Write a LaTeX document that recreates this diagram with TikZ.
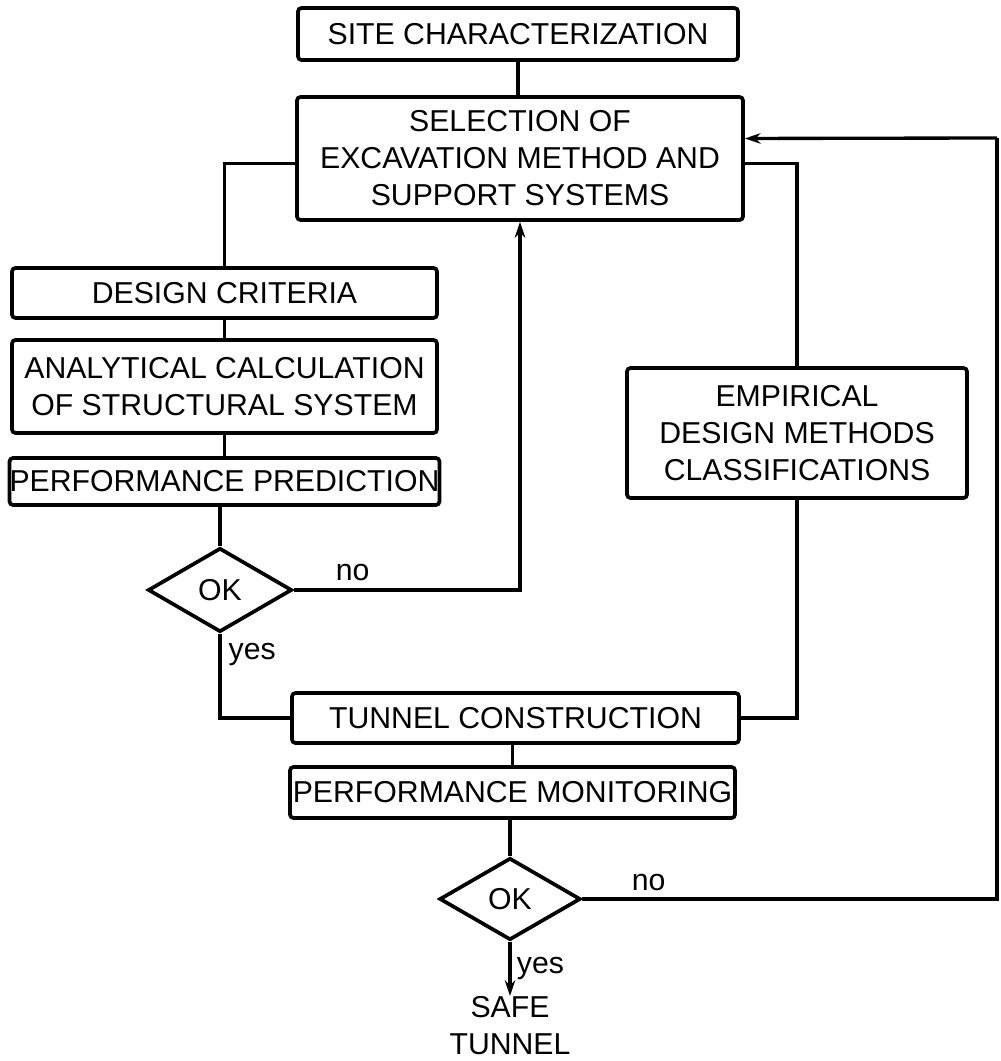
\documentclass[tikz,border=0pt]{standalone}
\usepackage{fontspec}
\setmainfont{Liberation Sans}
\usetikzlibrary{shapes.geometric,arrows.meta}
\tikzset{
    box/.style={draw, line width=2.1pt, rounded corners=2pt, align=center, inner sep=0pt},
    decision/.style={draw, diamond, line width=2.1pt, inner sep=0pt, aspect=1.7},
    lbl/.style={inner sep=0pt},
    link/.style={line width=1.9pt},
    tip/.style={link, -{Stealth[length=9pt,width=6pt]}}
}
\begin{document}
\begin{tikzpicture}[font=\fontsize{17.2}{21}\selectfont]
    \useasboundingbox (0,0) rectangle (20,21.22);
    \node[box, minimum width=8.8cm, minimum height=1.04cm] (site) at (10.36,20.54) {SITE CHARACTERIZATION};
    \node[box, minimum width=8.92cm, minimum height=2.46cm] (select) at (10.4,18.05) {SELECTION OF\\EXCAVATION METHOD AND\\SUPPORT SYSTEMS};
    \node[box, minimum width=8.5cm, minimum height=1cm] (design) at (4.49,15.36) {DESIGN CRITERIA};
    \node[box, minimum width=8.5cm, minimum height=1.86cm] (analyt) at (4.49,13.49) {ANALYTICAL CALCULATION\\OF STRUCTURAL SYSTEM};
    \node[box, minimum width=8.5cm, minimum height=0.94cm] (predict) at (4.49,11.59) {PERFORMANCE PREDICTION};
    \node[decision, minimum width=2.88cm, minimum height=1.68cm] (ok1) at (4.4,9.42) {OK};
    \node[box, minimum width=6.8cm, minimum height=2.6cm] (empir) at (15.94,12.56) {EMPIRICAL\\DESIGN METHODS\\CLASSIFICATIONS};
    \node[box, minimum width=8.94cm, minimum height=1cm] (constr) at (10.31,6.86) {TUNNEL CONSTRUCTION};
    \node[box, minimum width=8.9cm, minimum height=1.02cm] (monit) at (10.25,5.37) {PERFORMANCE MONITORING};
    \node[decision, minimum width=2.82cm, minimum height=1.64cm] (ok2) at (10.2,3.24) {OK};
    \node[lbl, align=center, anchor=north] (safe) at (10.2,1.3) {SAFE\\TUNNEL};
    \coordinate (back) at (19.94,18.46);
    % main line
    \draw[link] (site.south) -- (site.south |- select.north);
    \draw[link] ([yshift=-0.1cm]select.west) -| (design.north);
    \draw[link] (design) -- (analyt);
    \draw[link] (analyt) -- (predict);
    \draw[link] (ok1.north |- predict.south) -- (ok1.north);
    \draw[tip] (ok1.east) -| (select.south) node[lbl, pos=0.13, above=4pt] {no};
    \draw[link] (ok1.south) |- (constr.west) node[lbl, pos=0.12, right=4pt] {yes};
    % empirical branch
    \draw[link] ([yshift=-0.1cm]select.east) -| (empir.north);
    \draw[link] (empir.south) |- (constr.east);
    \draw[link] (monit.north |- constr.south) -- (monit.north);
    \draw[link] (ok2.north |- monit.south) -- (ok2.north);
    \draw[link] (ok2.east) -| (back) node[lbl, pos=0.08, above=4pt] {no};
    \draw[tip] (back) -- ([yshift=0.4cm]select.east);
    \draw[tip] (ok2.south) -- (safe.north) node[lbl, midway, right=3pt] {yes};
\end{tikzpicture}
\end{document}
